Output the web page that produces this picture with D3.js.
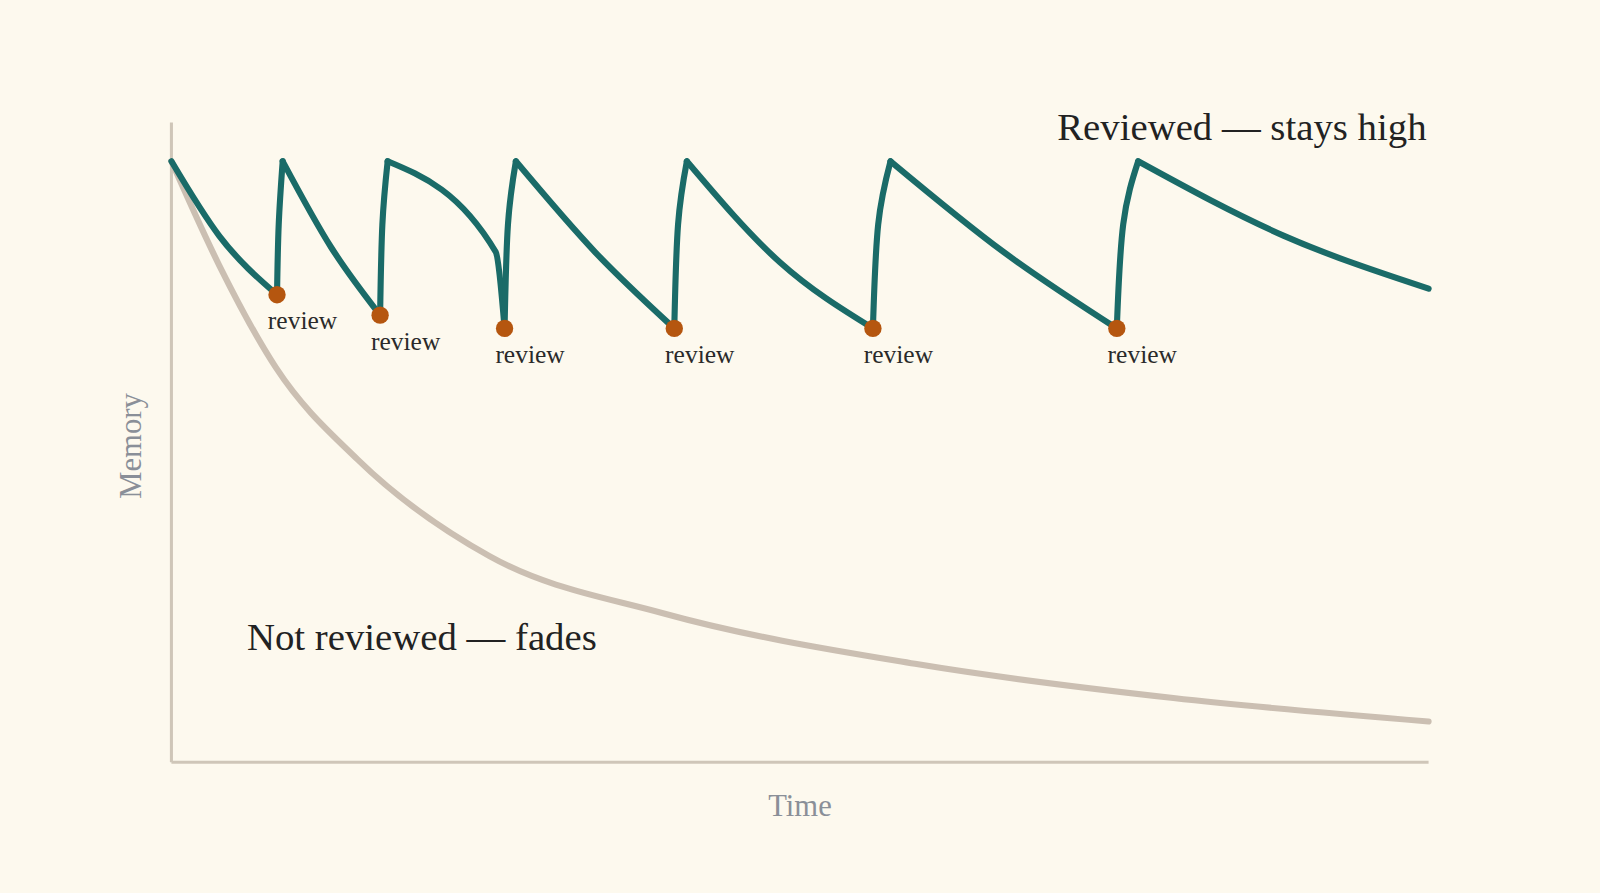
<!DOCTYPE html>
<html><head><meta charset="utf-8">
<script src="https://cdn.jsdelivr.net/npm/d3@7/dist/d3.min.js"></script>
<style>html,body{margin:0;padding:0;background:#fdf9ee;}svg{display:block}</style>
</head><body>
<svg id="c" width="1600" height="893" viewBox="0 0 1568 875"></svg>
<script>
// Time 0..100, Memory 0..100
const notReviewed = [[0,100],[3.8,82.7],[8.3,65.7],[14.8,50.4],[25.3,34.3],[39.1,24.8],[59.4,16.3],[79.7,10.7],[100,6.8]];
// decay segments: [peak, mid, review]
const decaySegments = [
  [[0,100],[3.8,87.6],[8.4,77.8]],
  [[8.85,100],[12.7,85.7],[16.6,74.4]],
  [[17.2,100],[25.8,84.9],[26.5,72.2]],
  [[27.4,100],[33.7,84.9],[40.0,72.2]],
  [[41.0,100],[48.4,83.2],[55.8,72.2]],
  [[57.2,100],[66.2,84.9],[75.2,72.2]],
  [[76.9,100],[88.5,87.6],[100,78.8]]
];
const reviews = [[8.4,77.8],[16.6,74.4],[26.5,72.2],[40.0,72.2],[55.8,72.2],[75.2,72.2]];
const peaks = [[8.85,100],[17.2,100],[27.4,100],[41.0,100],[57.2,100],[76.9,100]];
const reviewLabel = "review";

const svg = d3.select("#c");
svg.append("rect").attr("width",1568).attr("height",875).attr("fill","#fdf9ee");
const x = d3.scaleLinear().domain([0,100]).range([168,1400]);
const y = d3.scaleLinear().domain([0,100]).range([747,158]);
const serif = "'Liberation Serif','DejaVu Serif',serif";

svg.append("line").attr("x1",x(0)).attr("x2",x(0)).attr("y1",120).attr("y2",y(0)).attr("stroke","#cfc6b8").attr("stroke-width",3);
svg.append("line").attr("x1",x(0)).attr("x2",x(100)).attr("y1",y(0)).attr("y2",y(0)).attr("stroke","#cfc6b8").attr("stroke-width",3);

const line = d3.line().x(d=>x(d[0])).y(d=>y(d[1])).curve(d3.curveMonotoneX);
svg.append("path").attr("d",line(notReviewed)).attr("fill","none").attr("stroke","#cbbfb2").attr("stroke-width",6).attr("stroke-linecap","round");

const g = svg.append("g").attr("fill","none").attr("stroke","#1a6b68").attr("stroke-width",6).attr("stroke-linecap","round").attr("stroke-linejoin","round");
decaySegments.forEach(s=>g.append("path").attr("d",line(s)));
reviews.forEach((r,i)=>{
  const p = peaks[i];
  const mid = [r[0]+(p[0]-r[0])*0.3, 89.5];
  g.append("path").attr("d",d3.line().x(d=>x(d[0])).y(d=>y(d[1])).curve(d3.curveNatural)([r,mid,p]));
});

svg.selectAll("circle.r").data(reviews).join("circle").attr("cx",d=>x(d[0])).attr("cy",d=>y(d[1])).attr("r",8.5).attr("fill","#b5560f");
svg.selectAll("text.r").data(reviews).join("text").attr("x",d=>x(d[0])+25).attr("y",d=>y(d[1])+34)
  .attr("text-anchor","middle").attr("font-family",serif).attr("font-size",25).attr("fill","#2a2a2a").text(reviewLabel);

svg.append("text").attr("x",1398).attr("y",137).attr("text-anchor","end").attr("font-family",serif).attr("font-size",38).attr("fill","#222").text("Reviewed — stays high");
svg.append("text").attr("x",242).attr("y",637).attr("font-family",serif).attr("font-size",38).attr("fill","#222").text("Not reviewed — fades");
svg.append("text").attr("transform","translate(138,437) rotate(-90)").attr("text-anchor","middle").attr("font-family",serif).attr("font-size",30).attr("fill","#8a8f98").text("Memory");
svg.append("text").attr("x",784).attr("y",800).attr("text-anchor","middle").attr("font-family",serif).attr("font-size",30).attr("fill","#8a8f98").text("Time");
</script></body></html>
